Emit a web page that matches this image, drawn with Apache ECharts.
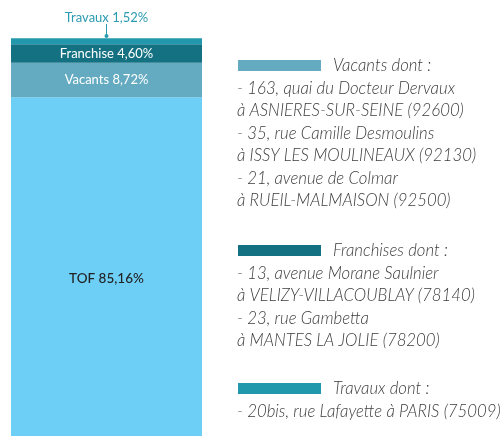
<!DOCTYPE html>
<html><head><meta charset="utf-8">
<script src="https://cdn.jsdelivr.net/npm/echarts@6/dist/echarts.min.js"></script>
<style>html,body{margin:0;padding:0;background:#fff}#c{width:502px;height:436px}</style>
</head><body><div id="c"></div>
<script>
const categories = ['Patrimoine'];
const seriesNames = ['TOF', 'Vacants', 'Franchise', 'Travaux'];
const seriesValues = [85.16, 8.72, 4.60, 1.52];
const seriesColors = ['#6dcff6', '#64abc1', '#147181', '#2198ab'];
const labelColors = ['#222222', '#ffffff', '#ffffff', '#2a9bb0'];

const notesVacants = ['- 163, quai du Docteur Dervaux', 'à ASNIERES-SUR-SEINE (92600)', '- 35, rue Camille Desmoulins', 'à ISSY LES MOULINEAUX (92130)', '- 21, avenue de Colmar', 'à RUEIL-MALMAISON (92500)'];
const notesFranchises = ['- 13, avenue Morane Saulnier', 'à VELIZY-VILLACOUBLAY (78140)', '- 23, rue Gambetta', 'à MANTES LA JOLIE (78200)'];
const notesTravaux = ['- 20bis, rue Lafayette à PARIS (75009)'];
const noteTitles = ['Vacants dont :', 'Franchises dont :', 'Travaux dont :'];

const fmt = v => v.toFixed(2).replace('.', ',') + '%';
const FONT = 'Lato, "Open Sans", sans-serif';
const Y_MAX = 100 * 444 / 405;

const series = seriesNames.map((n, i) => {
  const s = {
    name: n, type: 'bar', stack: 'all', barWidth: '100%',
    data: [seriesValues[i]],
    itemStyle: { color: seriesColors[i] },
    label: {
      show: true, position: 'inside', color: labelColors[i],
      fontFamily: FONT, fontSize: 13,
      formatter: () => n + ' ' + fmt(seriesValues[i])
    }
  };
  if (i === 0) { s.label.offset = [0, 12]; s.label.fontWeight = 500; s.label.fontSize = 13.5; }
  if (i === 3) {
    s.labelLayout = { dy: -24 };
    s.markLine = {
      silent: true, symbol: ['circle', 'none'], symbolSize: 4,
      lineStyle: { color: '#2a9bb0', width: 1, type: 'solid' },
      label: { show: false },
      data: [[{ coord: [categories[0], 100.6] }, { coord: [categories[0], 103.6] }]]
    };
  }
  return s;
});

function block(x, y, color, title, lines) {
  const els = [];
  const font = 'italic 300 16.8px ' + FONT;
  els.push({ type: 'rect', shape: { x: x + 1, y: y - 6, width: 83, height: 11 }, style: { fill: color } });
  els.push({ type: 'text', x: x + 96, y: y, style: { text: title, font: font, fill: '#3d3d3d', textVerticalAlign: 'middle' } });
  lines.forEach((t, k) => {
    els.push({ type: 'text', x: x, y: y + 22.5 * (k + 1), style: { text: t, font: font, fill: '#3d3d3d', textVerticalAlign: 'middle' } });
  });
  return els;
}

const chart = echarts.init(document.getElementById('c'));
chart.setOption({
  animation: false,
  grid: { left: 11, top: 0, width: 191, height: 444 },
  xAxis: { type: 'category', data: categories, show: false },
  yAxis: { type: 'value', min: 0, max: Y_MAX, show: false },
  series: series,
  graphic: [
    ...block(237, 66, seriesColors[1], noteTitles[0], notesVacants),
    ...block(237, 251, seriesColors[2], noteTitles[1], notesFranchises),
    ...block(237, 389, seriesColors[3], noteTitles[2], notesTravaux)
  ]
});
</script></body></html>
